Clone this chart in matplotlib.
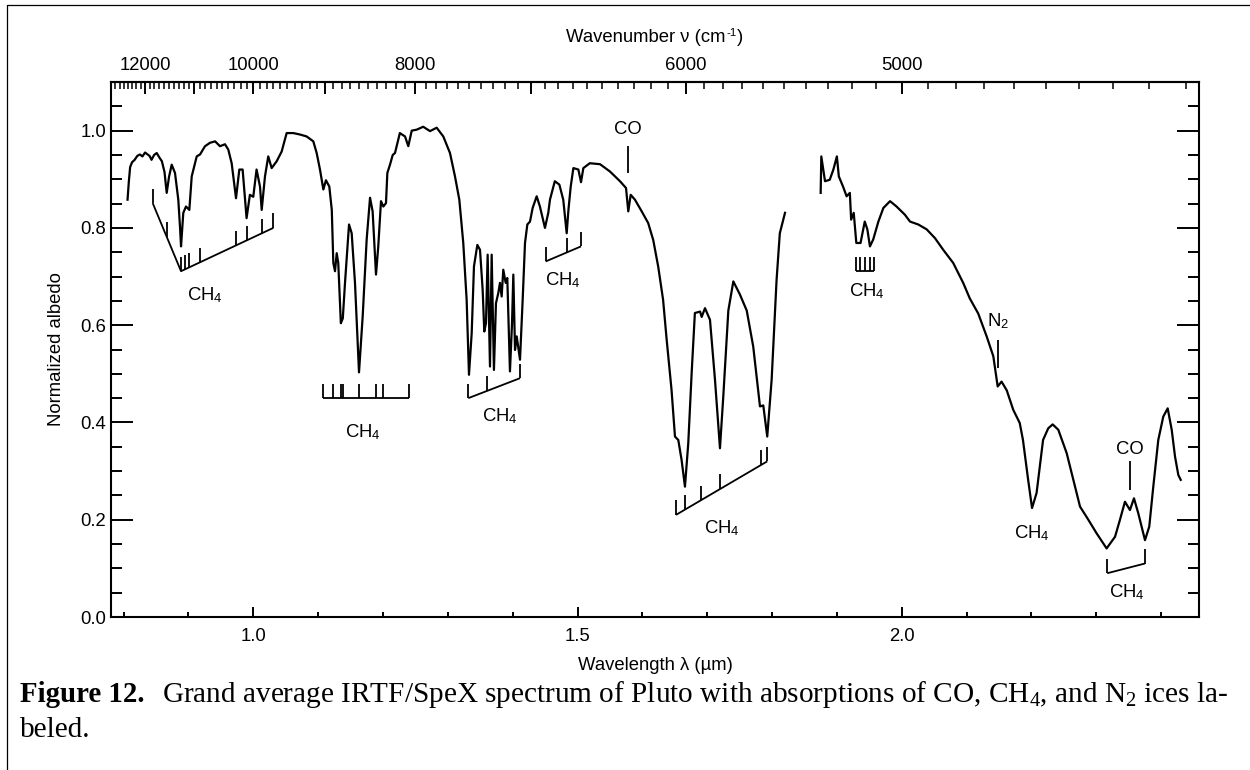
import numpy as np
import matplotlib
matplotlib.use('Agg')
import matplotlib.pyplot as plt
from matplotlib.ticker import FixedLocator, MultipleLocator, FuncFormatter, FormatStrFormatter
from matplotlib.lines import Line2D

# ---------------- data ----------------
seg1_wl = [0.806, 0.808, 0.810, 0.813, 0.817, 0.821, 0.825, 0.829, 0.833, 0.836, 0.840, 0.843,
           0.847, 0.851, 0.855, 0.859, 0.863, 0.8664, 0.870, 0.8741, 0.8792, 0.8843, 0.8870,
           0.8885, 0.8905, 0.892, 0.8962, 0.9013, 0.905, 0.9127, 0.9178, 0.9255, 0.9332, 0.941,
           0.9486, 0.9563, 0.9614, 0.9666, 0.9733, 0.9784, 0.9835, 0.9865, 0.9896, 0.9947, 0.9999,
           1.005, 1.0103, 1.0129, 1.018, 1.023, 1.0283, 1.036, 1.0437, 1.0514, 1.0617, 1.072,
           1.0823, 1.0925, 1.0977, 1.1028, 1.108, 1.112, 1.1172, 1.121, 1.1234, 1.126, 1.1286,
           1.131, 1.135, 1.138, 1.1414, 1.1476, 1.1517, 1.1568, 1.163, 1.1687, 1.1748, 1.180,
           1.184, 1.1892, 1.1927, 1.1969, 1.2005, 1.2046, 1.2067, 1.2108, 1.215, 1.2185, 1.226,
           1.234, 1.239, 1.2443, 1.252, 1.262, 1.2725, 1.2828, 1.293, 1.3033, 1.311, 1.3177,
           1.3238, 1.329, 1.3326, 1.3368, 1.3403, 1.3455, 1.3496, 1.3537, 1.3562, 1.3588, 1.3614,
           1.365, 1.3676, 1.3711, 1.3742, 1.3778, 1.3804, 1.383, 1.3855, 1.3892, 1.3917, 1.3958,
           1.399, 1.401, 1.4036, 1.4062, 1.4113, 1.4154, 1.419, 1.4226, 1.4267, 1.4308, 1.437,
           1.442, 1.4498, 1.4549, 1.4575, 1.465, 1.472, 1.478, 1.4833, 1.486, 1.4895, 1.4936,
           1.5013, 1.5054, 1.509, 1.519, 1.5347, 1.550, 1.5655, 1.5748, 1.5783, 1.582, 1.5886,
           1.599, 1.609, 1.6168, 1.6245, 1.632, 1.6375, 1.645, 1.6503, 1.6554, 1.6605, 1.6657,
           1.6708, 1.676, 1.681, 1.689, 1.6915, 1.6966, 1.7043, 1.712, 1.7197, 1.7248, 1.7326,
           1.7403, 1.7505, 1.761, 1.771, 1.7814, 1.7865, 1.7926, 1.7994, 1.807, 1.812, 1.8174,
           1.820]
seg1_alb = [0.858, 0.895, 0.925, 0.935, 0.940, 0.948, 0.951, 0.947, 0.955, 0.952, 0.948, 0.940,
            0.950, 0.954, 0.945, 0.937, 0.915, 0.872, 0.905, 0.930, 0.913, 0.858, 0.800,
            0.762, 0.800, 0.831, 0.844, 0.837, 0.906, 0.947, 0.951, 0.968, 0.975, 0.978,
            0.968, 0.972, 0.961, 0.933, 0.861, 0.920, 0.920, 0.870, 0.820, 0.868, 0.864,
            0.920, 0.885, 0.837, 0.906, 0.947, 0.923, 0.937, 0.957, 0.995, 0.995, 0.992,
            0.988, 0.978, 0.954, 0.920, 0.879, 0.898, 0.885, 0.837, 0.728, 0.711, 0.748,
            0.728, 0.604, 0.614, 0.687, 0.807, 0.789, 0.687, 0.503, 0.619, 0.776, 0.862,
            0.834, 0.704, 0.762, 0.855, 0.844, 0.851, 0.913, 0.930, 0.950, 0.954, 0.995,
            0.988, 0.968, 1.000, 1.002, 1.008, 0.999, 1.006, 0.988, 0.954, 0.906, 0.858,
            0.769, 0.652, 0.498, 0.584, 0.721, 0.765, 0.755, 0.673, 0.587, 0.604, 0.745,
            0.515, 0.745, 0.508, 0.645, 0.666, 0.687, 0.659, 0.714, 0.687, 0.697, 0.505,
            0.604, 0.704, 0.549, 0.577, 0.529, 0.652, 0.769, 0.807, 0.813, 0.841, 0.865,
            0.844, 0.800, 0.831, 0.858, 0.896, 0.889, 0.858, 0.789, 0.837, 0.885, 0.923,
            0.920, 0.894, 0.923, 0.933, 0.931, 0.916, 0.896, 0.882, 0.834, 0.868, 0.858,
            0.834, 0.810, 0.775, 0.720, 0.652, 0.570, 0.467, 0.371, 0.364, 0.323, 0.268,
            0.357, 0.501, 0.625, 0.628, 0.617, 0.635, 0.611, 0.488, 0.347, 0.453, 0.630,
            0.690, 0.663, 0.630, 0.556, 0.433, 0.435, 0.371, 0.488, 0.693, 0.789, 0.817,
            0.831]

seg2_wl = [1.875, 1.876, 1.8817, 1.889, 1.8946, 1.900, 1.903, 1.9095, 1.915, 1.920, 1.922, 1.926,
           1.930, 1.9365, 1.943, 1.947, 1.951, 1.956, 1.964, 1.9717, 1.982, 1.992, 2.005, 2.0128,
           2.0256, 2.0385, 2.0513, 2.064, 2.0794, 2.0948, 2.105, 2.118, 2.131, 2.1413, 2.148,
           2.154, 2.162, 2.172, 2.182, 2.187, 2.195, 2.201, 2.208, 2.218, 2.226, 2.2328, 2.2415,
           2.2544, 2.2647, 2.275, 2.2878, 2.3006, 2.316, 2.329, 2.3366, 2.3443, 2.352, 2.3582,
           2.3649, 2.3752, 2.3818, 2.388, 2.3957, 2.4034, 2.4102, 2.4164, 2.4215, 2.4266, 2.4303]
seg2_alb = [0.872, 0.947, 0.896, 0.899, 0.920, 0.947, 0.906, 0.885, 0.865, 0.872, 0.817, 0.831,
            0.769, 0.769, 0.813, 0.797, 0.762, 0.776, 0.813, 0.841, 0.855, 0.844, 0.827, 0.813,
            0.807, 0.797, 0.779, 0.755, 0.728, 0.687, 0.655, 0.624, 0.577, 0.536, 0.474,
            0.484, 0.466, 0.426, 0.399, 0.364, 0.282, 0.224, 0.255, 0.364, 0.388, 0.396, 0.385,
            0.337, 0.282, 0.227, 0.200, 0.172, 0.141, 0.165, 0.200, 0.237, 0.220, 0.244,
            0.213, 0.158, 0.186, 0.268, 0.364, 0.412, 0.429, 0.385, 0.330, 0.292, 0.282]

# CH4 band brackets: polyline x, polyline y, tick positions, label position
ch4_brackets = [
    ([0.8448, 0.8885, 1.0308], [0.851, 0.711, 0.800],
     [0.8448, 0.8664, 0.8885, 0.8947, 0.9013, 0.9178, 0.9733, 0.9896, 1.0129, 1.0308], (0.925, 0.662)),
    ([1.107, 1.2406], [0.450, 0.450],
     [1.107, 1.1229, 1.1352, 1.1383, 1.1634, 1.1896, 1.1999, 1.2406], (1.169, 0.381)),
    ([1.3316, 1.4113], [0.450, 0.491], [1.3316, 1.3599, 1.4113], (1.3805, 0.412)),
    ([1.4508, 1.5054], [0.731, 0.762], [1.4508, 1.4833, 1.5054], (1.478, 0.693)),
    ([1.6519, 1.7926], [0.210, 0.320],
     [1.6519, 1.6657, 1.6904, 1.7197, 1.7829, 1.7926], (1.7224, 0.182)),
    ([1.930, 1.958], [0.711, 0.711], [1.930, 1.935, 1.944, 1.951, 1.958], (1.946, 0.669)),
    ([2.317, 2.3752], [0.090, 0.110], [2.317, 2.3752], (2.347, 0.052)),
]
ch4_free_label = (2.2015, 0.172)
# single-line markers: x, line bottom, line top, label y, label
line_marks = [
    (1.578, 0.913, 0.968, 1.002, 'CO'),
    (2.352, 0.261, 0.320, 0.344, 'CO'),
    (2.149, 0.512, 0.570, 0.608, 'N$_{\\mathsf{2}}$'),
]

top_major = [5000, 6000, 7000, 8000, 9000, 10000, 11000, 12000]
top_labels = {12000: '12000', 10000: '10000', 8000: '8000', 6000: '6000', 5000: '5000'}
top_minor = list(range(4100, 12900, 100))

# ---------------- style ----------------
plt.rcParams['font.family'] = ['Liberation Sans', 'DejaVu Sans']
plt.rcParams['mathtext.fontset'] = 'custom'
plt.rcParams['mathtext.rm'] = 'Liberation Serif'
plt.rcParams['mathtext.it'] = 'Liberation Serif:italic'
plt.rcParams['mathtext.bf'] = 'Liberation Serif:bold'
plt.rcParams['mathtext.sf'] = 'Liberation Sans'

W, H = 1250, 770
FS = 13.3


def fx(px):
    return px / W


def fy(py):
    return 1 - py / H


fig = plt.figure(figsize=(W / 100, H / 100), dpi=100)
fig.patch.set_facecolor('white')
renderer = fig.canvas.get_renderer()

L, R, T, B = 111, 1199, 82, 617
ax = fig.add_axes([fx(L), fy(B), (R - L) / W, (B - T) / H])

ax.plot(seg1_wl, seg1_alb, color='black', lw=1.6, solid_joinstyle='round')
ax.plot(seg2_wl, seg2_alb, color='black', lw=1.6, solid_joinstyle='round')

ax.set_xlim(0.7805, 2.4585)
ax.set_ylim(0.0, 1.10)

ax.xaxis.set_major_locator(MultipleLocator(0.5))
ax.xaxis.set_minor_locator(MultipleLocator(0.1))
ax.xaxis.set_major_formatter(FormatStrFormatter('%.1f'))
ax.yaxis.set_major_locator(MultipleLocator(0.2))
ax.yaxis.set_minor_locator(MultipleLocator(0.05))
ax.yaxis.set_major_formatter(FormatStrFormatter('%.1f'))

for s in ax.spines.values():
    s.set_linewidth(1.5)

ax.tick_params(axis='y', which='major', direction='in', length=15.8, width=1.4,
               left=True, right=True, labelsize=FS, pad=3.6)
ax.tick_params(axis='y', which='minor', direction='in', length=7.9, width=1.4,
               left=True, right=True)
ax.tick_params(axis='x', which='major', direction='in', length=7.2, width=1.4,
               bottom=True, top=False, labelsize=FS, pad=8.0)
ax.tick_params(axis='x', which='minor', direction='in', length=3.6, width=1.4,
               bottom=True, top=False)


def conv(x):
    x = np.asarray(x, dtype=float)
    with np.errstate(divide='ignore', invalid='ignore'):
        return 1e4 / x


sec = ax.secondary_xaxis('top', functions=(conv, conv))
sec.xaxis.set_major_locator(FixedLocator(top_major))
sec.xaxis.set_minor_locator(FixedLocator(top_minor))
sec.xaxis.set_major_formatter(FuncFormatter(lambda v, p: top_labels.get(int(round(v)), '')))
sec.tick_params(which='major', direction='in', length=8.5, width=1.4, labelsize=FS, pad=5.5)
sec.tick_params(which='minor', direction='in', length=4.8, width=1.1)
sec.spines['top'].set_linewidth(1.5)

# brackets
blw = 1.3
for lx, ly, ticks, (tx, ty) in ch4_brackets:
    ax.plot(lx, ly, color='black', lw=blw, solid_capstyle='butt')
    for t in ticks:
        y0 = np.interp(t, lx, ly)
        ax.plot([t, t], [y0, y0 + 0.03], color='black', lw=blw, solid_capstyle='butt')
    ax.text(tx, ty, 'CH$_{\\mathsf{4}}$', ha='center', va='center', fontsize=FS)
ax.text(ch4_free_label[0], ch4_free_label[1], 'CH$_{\\mathsf{4}}$', ha='center', va='center',
        fontsize=FS)
for x, y0, y1, yt, lab in line_marks:
    ax.plot([x, x], [y0, y1], color='black', lw=blw, solid_capstyle='butt')
    ax.text(x, yt, lab, ha='center', va='center', fontsize=FS)


def text_width(s, **kw):
    t = fig.text(0, 0, s, **kw)
    w = t.get_window_extent(renderer).width
    t.remove()
    return w


# top title with a short hyphen superscript
ttl_a, ttl_b, ttl_c = 'Wavenumber \u03bd (cm', '-1', ')'
SUP = FS * 0.62
wa = text_width(ttl_a, fontsize=FS)
wb = text_width(ttl_b, fontsize=SUP)
wc = text_width(ttl_c, fontsize=FS)
xs = 655 - (wa + wb + 1 + wc) / 2
base_ttl = 42
fig.text(fx(xs), fy(base_ttl), ttl_a, fontsize=FS, va='baseline', ha='left')
fig.text(fx(xs + wa + 0.5), fy(base_ttl - 6.5), ttl_b, fontsize=SUP, va='baseline', ha='left')
fig.text(fx(xs + wa + wb + 1), fy(base_ttl), ttl_c, fontsize=FS, va='baseline', ha='left')

fig.text(fx(655), fy(665), 'Wavelength \u03bb (\u00b5m)', ha='center', va='center', fontsize=FS)
fig.text(fx(57), fy(349.5), 'Normalized albedo', rotation=90, ha='center', va='center',
         fontsize=FS)

# frame lines
fig.add_artist(Line2D([fx(7), fx(7), 1.0], [0.0, fy(5), fy(5)], transform=fig.transFigure,
                      color='black', lw=0.9))

# caption
cap_bold = 'Figure 12.'
cap_rest = 'Grand average IRTF/SpeX spectrum of Pluto with absorptions of CO, CH$_4$, and N$_2$ ices la-'
S0 = 20.0
wb0 = text_width(cap_bold, fontsize=S0, fontweight='bold', family='Liberation Serif')
wr0 = text_width(cap_rest, fontsize=S0, family='Liberation Serif')
Sb = S0 * 125.0 / wb0
Sr = S0 * (1228.0 - 162.0) / wr0
x0 = 20
fig.text(fx(x0), fy(702), cap_bold, fontsize=Sb, fontweight='bold',
         family='Liberation Serif', va='baseline', ha='left')
fig.text(fx(162), fy(702), cap_rest, fontsize=Sr, family='Liberation Serif',
         va='baseline', ha='left')
fig.text(fx(x0), fy(737), 'beled.', fontsize=Sr, family='Liberation Serif', va='baseline',
         ha='left')

fig.savefig('out.png', dpi=100)
